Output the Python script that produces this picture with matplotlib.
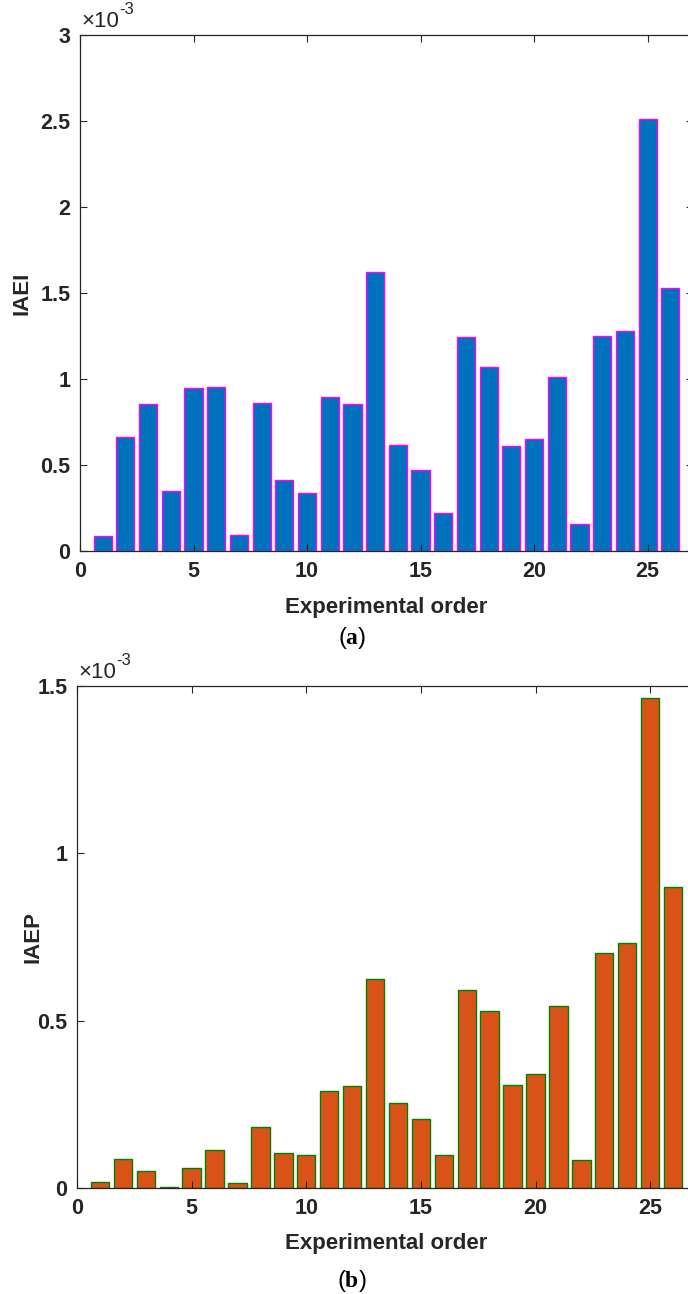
import numpy as np
import matplotlib
matplotlib.use("Agg")
import matplotlib.pyplot as plt

plt.rcParams['font.family'] = ['Liberation Sans', 'DejaVu Sans']
plt.rcParams['mathtext.fontset'] = 'custom'
plt.rcParams['mathtext.rm'] = 'Liberation Serif'
plt.rcParams['mathtext.bf'] = 'Liberation Serif:bold'

# data (units of 1e-3)
order = np.arange(1, 27)
iaei = [0.09, 0.665, 0.855, 0.35, 0.945, 0.955, 0.093, 0.86, 0.412, 0.337,
        0.893, 0.855, 1.622, 0.617, 0.471, 0.221, 1.243, 1.07, 0.61, 0.651,
        1.012, 0.157, 1.25, 1.28, 2.512, 1.53]
iaep = [0.017, 0.086, 0.050, 0.002, 0.061, 0.113, 0.015, 0.183, 0.105, 0.099,
        0.290, 0.305, 0.624, 0.254, 0.206, 0.100, 0.592, 0.529, 0.308, 0.341,
        0.544, 0.085, 0.702, 0.732, 1.463, 0.899]

dark = '#262626'
fig = plt.figure(figsize=(6.88, 12.94), dpi=100)

panels = [
    ([80/688, 1-551/1294, 613/688, 516/1294], iaei, 'IAEI', 3.0, [0, 0.5, 1, 1.5, 2, 2.5, 3],
     ['0', '0.5', '1', '1.5', '2', '2.5', '3'], '#0072BD', '#FF00FF', 'a', 638,
     (-0.0767, 0.5), (0.5, -0.0891)),
    ([77/688, 1-1188/1294, 619/688, 502/1294], iaep, 'IAEP', 1.5, [0, 0.5, 1, 1.5],
     ['0', '0.5', '1', '1.5'], '#D95319', '#008000', 'b', 1281,
     (-0.0549, 0.5), (0.5, -0.0896)),
]

for rect, vals, ylab, ytop, yt, ytl, fc, ec, cap, capy, ylpos, xlpos in panels:
    ax = fig.add_axes(rect)
    ax.bar(order, vals, width=0.8, color=fc, edgecolor=ec, linewidth=1.0)
    ax.set_xlim(0, 27)
    ax.set_ylim(0, ytop)
    ax.set_xticks([0, 5, 10, 15, 20, 25])
    ax.set_yticks(yt)
    ax.set_yticklabels(ytl)
    ax.tick_params(direction='in', top=True, right=True, length=5, width=0.8,
                   colors=dark, labelsize=15.5, pad=7)
    for lab in ax.get_xticklabels() + ax.get_yticklabels():
        lab.set_fontweight('bold')
    for s in ax.spines.values():
        s.set_color(dark)
        s.set_linewidth(0.9)
    ax.set_xlabel('Experimental order', fontsize=16, fontweight='bold', color=dark)
    ax.set_ylabel(ylab, fontsize=16, fontweight='bold', color=dark)
    ax.yaxis.set_label_coords(*ylpos)
    ax.xaxis.set_label_coords(*xlpos)
    # exponent label like MATLAB
    t = ax.text(0.003, 1.006, '\u00d710', transform=ax.transAxes, fontsize=16,
                color=dark, ha='left', va='bottom')
    ax.annotate('-3', xy=(1.0, 0.72), xycoords=t, fontsize=12,
                color=dark, ha='left', va='bottom')
    fig.text(352/688, 1-capy/1294, r'($\mathbf{' + cap + r'}$)', fontsize=17,
             ha='center', va='center', color='black')

fig.savefig('out.png', dpi=100)
